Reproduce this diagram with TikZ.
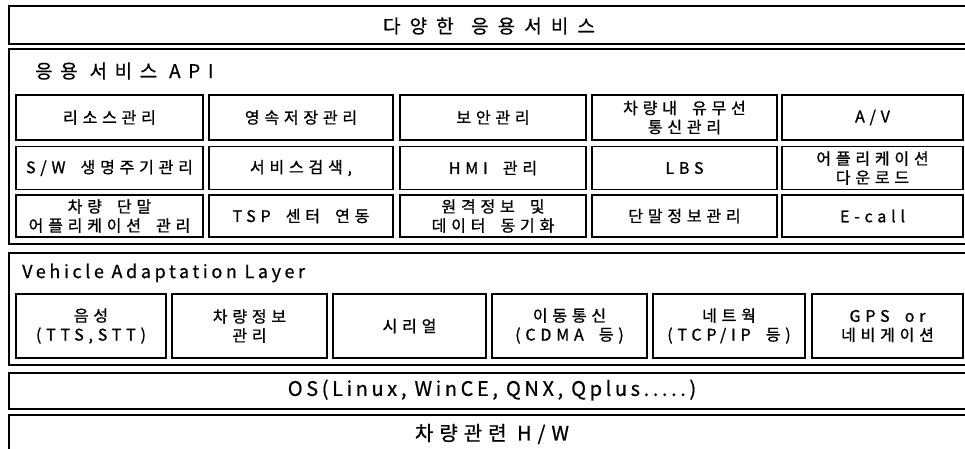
\documentclass[tikz,border=0pt]{standalone}
\usepackage{fontspec}
\setmainfont{Noto Sans CJK KR}
\newfontfamily\krw[LetterSpace=30,FakeBold=1,WordSpace=1.8]{Noto Sans CJK KR}
\newfontfamily\krh[LetterSpace=30,FakeBold=0.8]{Noto Sans CJK KR}
\newfontfamily\krt[LetterSpace=48,FakeBold=0.6,WordSpace=1.3]{Noto Sans CJK KR}
\newfontfamily\kra[LetterSpace=40,FakeBold=0.6]{Noto Sans CJK KR}
\newfontfamily\lat[LetterSpace=20,FakeBold=0.6]{Noto Sans CJK KR}
\newfontfamily\los[LetterSpace=18,FakeBold=0.6]{Noto Sans CJK KR}
\begin{document}
\begin{tikzpicture}[x=1pt,y=-1pt,
  ln/.style={draw=black, line width=1.6pt},
  outer/.style={ln, rectangle, inner sep=0pt, anchor=north west},
  cell/.style={ln, rectangle, inner sep=0pt, align=center, font=\krw\fontsize{16}{19}\selectfont},
  lbl/.style={inner sep=0pt},
]
\useasboundingbox (0,0) rectangle (965,448);
\clip (0,0) rectangle (965,448);
% layers
\node[outer, minimum width=970pt, minimum height=38pt] (top) at (8,5) {};
\node[outer, minimum width=970pt, minimum height=195pt] (api) at (8,48) {};
\node[outer, minimum width=970pt, minimum height=112pt] (val) at (8,252) {};
\node[outer, minimum width=970pt, minimum height=36pt] (os) at (8,372) {};
\node[outer, minimum width=970pt, minimum height=50pt] (hw) at (8,414) {};
% titles
\node[lbl, font=\krt\fontsize{19}{22}\selectfont] (ttop) at (489,26) {다양한 응용서비스};
\node[lbl, anchor=west, font=\kra\fontsize{19}{22}\selectfont] (tapi) at (35,71) {응용 서비스 API};
\node[lbl, anchor=west, font=\lat\fontsize{18}{21}\selectfont] (tval) at (22,273) {Vehicle Adaptation Layer};
\node[lbl, font=\los\fontsize{20}{23}\selectfont] (tos) at (492,390) {OS(Linux, WinCE, QNX, Qplus.....)};
\node[lbl, font=\krh\fontsize{20}{23}\selectfont] (thw) at (492,434) {차량관련 H/W};
% API row 1
\node[cell, minimum width=187pt, minimum height=45pt] (a11) at (109.5,117.5) {리소스관리};
\node[cell, minimum width=184pt, minimum height=45pt] (a12) at (301,117.5) {영속저장관리};
\node[cell, minimum width=186pt, minimum height=45pt] (a13) at (493,117.5) {보안관리};
\node[cell, minimum width=185pt, minimum height=45pt] (a14) at (684.5,117.5) {차량내 유무선\\통신관리};
\node[cell, minimum width=181pt, minimum height=45pt] (a15) at (872.5,117.5) {A/V};
% API row 2
\node[cell, minimum width=187pt, minimum height=43pt] (a21) at (109.5,168) {S/W 생명주기관리};
\node[cell, minimum width=184pt, minimum height=43pt] (a22) at (301,168) {서비스검색,};
\node[cell, minimum width=186pt, minimum height=43pt] (a23) at (493,168) {HMI 관리};
\node[cell, minimum width=185pt, minimum height=43pt] (a24) at (684.5,168) {LBS};
\node[cell, minimum width=181pt, minimum height=43pt] (a25) at (872.5,168) {어플리케이션\\다운로드};
% API row 3
\node[cell, minimum width=187pt, minimum height=42pt] (a31) at (109.5,216) {차량 단말\\어플리케이션 관리};
\node[cell, minimum width=184pt, minimum height=42pt] (a32) at (301,216) {TSP 센터 연동};
\node[cell, minimum width=186pt, minimum height=42pt] (a33) at (493,216) {원격정보 및\\데이터 동기화};
\node[cell, minimum width=185pt, minimum height=42pt] (a34) at (684.5,216) {단말정보관리};
\node[cell, minimum width=181pt, minimum height=42pt] (a35) at (872.5,216) {E-call};
% VAL row
\node[cell, minimum width=150pt, minimum height=64pt] (v1) at (91,326) {음성\\(TTS,STT)};
\node[cell, minimum width=155pt, minimum height=64pt] (v2) at (249.5,326) {차량정보\\관리};
\node[cell, minimum width=153pt, minimum height=64pt] (v3) at (409.5,326) {시리얼};
\node[cell, minimum width=155pt, minimum height=64pt] (v4) at (569.5,326) {이동통신\\(CDMA 등)};
\node[cell, minimum width=152pt, minimum height=64pt] (v5) at (729,326) {네트웍\\(TCP/IP 등)};
\node[cell, minimum width=151pt, minimum height=64pt] (v6) at (887.5,326) {GPS or\\네비게이션};
\end{tikzpicture}
\end{document}
